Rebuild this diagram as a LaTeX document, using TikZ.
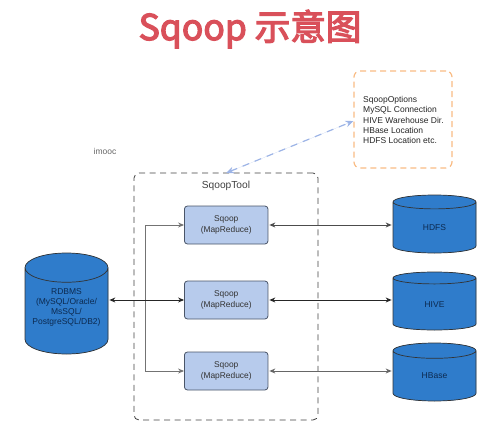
\documentclass[tikz,border=0pt]{standalone}
\usepackage{fontspec}
\setmainfont{Liberation Sans}
\newfontfamily\cjk[FakeBold=3.5]{Noto Sans CJK SC}
\usetikzlibrary{shapes.geometric,arrows.meta}
\definecolor{cylblue}{HTML}{2F7CCB}
\definecolor{boxblue}{HTML}{B7CBEC}
\definecolor{boxline}{HTML}{4A5568}
\definecolor{titlered}{HTML}{D9505A}
\definecolor{orangedash}{HTML}{F9BC84}
\definecolor{bluedash}{HTML}{9DB4E6}
\definecolor{cyltext}{HTML}{0C2A50}
\tikzset{
  dbcyl/.style={cylinder,shape border rotate=90,draw=black!80,line width=0.7pt,fill=cylblue,
    cylinder uses custom fill,cylinder body fill=cylblue,cylinder end fill=cylblue,
    minimum width=83pt,inner sep=0pt,align=center,anchor=shape center,
    font=\fontsize{8.5}{10.2}\selectfont,text=cyltext},
  sqoopbox/.style={draw=boxline,line width=0.8pt,fill=boxblue,rounded corners=3pt,
    minimum width=83.5pt,minimum height=38pt,inner sep=0pt,align=center,
    font=\fontsize{8.4}{10.4}\selectfont,text=black!80},
  biarrow/.style={{Stealth[length=6pt,width=5pt]}-{Stealth[length=6pt,width=5pt]},line width=0.9pt,draw=#1},
  gateline/.style={-{Stealth[length=6pt,width=5pt]},line width=1pt,draw=black!55},
}
\begin{document}
\begin{tikzpicture}[x=1pt,y=-1pt]
\useasboundingbox (0,0) rectangle (501,439);
\node[font=\cjk\fontsize{35.5}{38}\selectfont,text=titlered] (title) at (250,29) {Sqoop 示意图};
\node[font=\fontsize{8.5}{10}\selectfont,text=black!60] (imooc) at (105,151) {imooc};
\node[draw=black!75,dash pattern=on 6pt off 4.5pt,line width=0.8pt,rounded corners=5pt,minimum width=184pt,minimum height=247pt,inner sep=0pt] (tool) at (226,296.5) {};
\node[font=\fontsize{10.2}{12}\selectfont,text=black!75] (toollabel) at (226,186) {SqoopTool};
\node[draw=orangedash,dash pattern=on 6pt off 4pt,line width=1.2pt,rounded corners=6pt,minimum width=98pt,minimum height=97pt,inner sep=0pt] (opts) at (403,119.5) {};
\node[anchor=west,align=left,inner sep=0pt,font=\fontsize{8.5}{10.3}\selectfont,text=black!85] (optstext) at (363,120) {SqoopOptions\\MySQL Connection\\HIVE Warehouse Dir.\\HBase Location\\HDFS Location etc.};
\node[sqoopbox] (s1) at (226.2,225) {Sqoop\\(MapReduce)};
\node[sqoopbox] (s2) at (226.2,300) {Sqoop\\(MapReduce)};
\node[sqoopbox] (s3) at (226.2,371) {Sqoop\\(MapReduce)};
\node[dbcyl,minimum height=101pt,aspect=0.43] (rdbms) at (66.5,303.5) {\raisebox{3.5pt}[22pt][18pt]{\begin{tabular}{@{}c@{}}RDBMS\\(MySQL/Oracle/\\MsSQL/\\PostgreSQL/DB2)\end{tabular}}};
\node[dbcyl,minimum height=58pt,aspect=0.6] (hdfs) at (434.5,224) {HDFS};
\node[dbcyl,minimum height=58pt,aspect=0.6] (hive) at (434.5,301) {HIVE};
\node[dbcyl,minimum height=58pt,aspect=0.6] (hbase) at (434.5,372) {HBase};
\coordinate (split) at (145,300);
\coordinate (optin) at (353.5,121);
\coordinate (toolin) at (226,173);
\draw[biarrow=black!70,shorten <=1pt,shorten >=1pt] (s1.east) -- (s1.east -| hdfs.west);
\draw[biarrow=black!85,shorten <=1pt,shorten >=1pt] (s2.east) -- (s2.east -| hive.west);
\draw[biarrow=black!60,shorten <=1pt,shorten >=1pt] (s3.east) -- (s3.east -| hbase.west);
\draw[gateline] (split) |- (s1.west);
\draw[gateline] (split) |- (s3.west);
\draw[biarrow=black!85,shorten <=1pt] (s2.west -| rdbms.east) -- (s2.west);
\draw[{Stealth[length=8pt,width=6.5pt]}-{Stealth[length=8pt,width=6.5pt]},draw=bluedash,fill=bluedash,line width=1.2pt,dash pattern=on 7pt off 6pt] (toolin) -- (optin);
\end{tikzpicture}
\end{document}
